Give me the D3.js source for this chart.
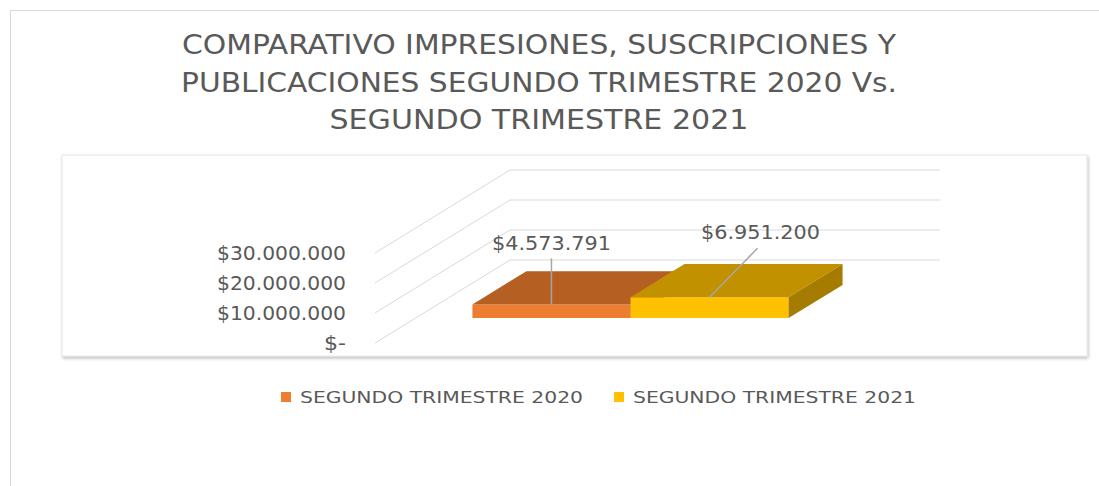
<!DOCTYPE html>
<html>
<head>
<meta charset="utf-8">
<script src="https://cdn.jsdelivr.net/npm/d3@7"></script>
<style>
  body { margin: 0; background: #fff; }
  svg text { fill: #595959; font-family: "Liberation Sans Narrow", "DejaVu Sans Condensed", "Open Sans", sans-serif; }
</style>
</head>
<body>
<div id="chart"></div>
<script>
var titleLines = ["COMPARATIVO IMPRESIONES, SUSCRIPCIONES Y",
                  "PUBLICACIONES SEGUNDO TRIMESTRE 2020 Vs.",
                  "SEGUNDO TRIMESTRE 2021"];
var categories = ["SEGUNDO TRIMESTRE"];
var seriesNames = ["SEGUNDO TRIMESTRE 2020", "SEGUNDO TRIMESTRE 2021"];
var seriesValues = [4573791, 6951200];
var valueLabels = ["$4.573.791", "$6.951.200"];
var tickValues = [0, 10000000, 20000000, 30000000];
var tickLabels = ["$-", "$10.000.000", "$20.000.000", "$30.000.000"];

var width = 1099, height = 486;

var svg = d3.select("#chart").append("svg")
    .attr("width", width)
    .attr("height", height);

var defs = svg.append("defs");
var f = defs.append("filter").attr("id", "shadow")
    .attr("x", "-5%").attr("y", "-5%").attr("width", "110%").attr("height", "120%");
f.append("feDropShadow").attr("dx", 1).attr("dy", 2).attr("stdDeviation", 1.5)
    .attr("flood-color", "#000").attr("flood-opacity", 0.25);

// outer chart frame
svg.append("rect")
    .attr("x", 10.5).attr("y", 10.5)
    .attr("width", 1200).attr("height", 600)
    .attr("fill", "#fff").attr("stroke", "#d9d9d9");

// title
var titleWidths = [714, 716, 419];
svg.selectAll(".title").data(titleLines).enter().append("text")
    .attr("class", "title")
    .attr("x", 539)
    .attr("y", function(d, i) { return 54 + i * 37.5; })
    .attr("text-anchor", "middle")
    .attr("textLength", function(d, i) { return titleWidths[i]; })
    .attr("lengthAdjust", "spacingAndGlyphs")
    .style("font-size", "27px")
    .text(function(d) { return d; });

// plot box
svg.append("rect")
    .attr("x", 62).attr("y", 155)
    .attr("width", 1025).attr("height", 201)
    .attr("fill", "#fff")
    .attr("stroke", "#e6e6e6")
    .attr("filter", "url(#shadow)");

// pseudo 3d: depth 0 = front, 1 = back
var depthX = 135, depthY = -83;
var y = d3.scaleLinear().domain([0, 30000000]).range([343, 253]);
var xCat = d3.scaleBand().domain(categories).range([375, 805]);
var barW = xCat.bandwidth() / (seriesNames.length + 0.72);
var xSer = d3.scaleBand().domain(seriesNames)
    .range([xCat(categories[0]) + barW * 0.36, xCat(categories[0]) + xCat.bandwidth() - barW * 0.36]);

function pt(x, v, d) { return [x + depthX * d, y(v) + depthY * d]; }

var grid = svg.append("g");
tickValues.forEach(function(v) {
  var a = pt(375, v, 0), b = pt(375, v, 1), c = pt(805, v, 1);
  grid.append("path")
    .attr("d", "M" + a + "L" + b + "L" + c)
    .attr("fill", "none").attr("stroke", "#d9d9d9").attr("stroke-width", 1);
});

var tickWidths = [22, 129, 129, 129];
svg.selectAll(".tick").data(tickValues).enter().append("text")
    .attr("class", "tick")
    .attr("x", 346)
    .attr("y", function(d) { return y(d) + 7; })
    .attr("text-anchor", "end")
    .attr("textLength", function(d, i) { return tickWidths[i]; })
    .attr("lengthAdjust", "spacingAndGlyphs")
    .style("font-size", "19px")
    .text(function(d, i) { return tickLabels[i]; });

// bars
var frontColor = ["#ED7D31", "#FFC000"],
    topColor = ["#B65F22", "#C19100"],
    sideColor = ["#9E4F1A", "#A67C00"];
var d0 = 0.3, d1 = 0.7;

function poly(pts) { return "M" + pts.join("L") + "Z"; }

seriesNames.forEach(function(s, i) {
  var x0 = xSer(s), x1 = x0 + xSer.bandwidth(), v = seriesValues[i];
  var g = svg.append("g");
  g.append("path").attr("d", poly([pt(x0, 0, d0), pt(x1, 0, d0), pt(x1, v, d0), pt(x0, v, d0)]))
    .attr("fill", frontColor[i]);
  g.append("path").attr("d", poly([pt(x0, v, d0), pt(x1, v, d0), pt(x1, v, d1), pt(x0, v, d1)]))
    .attr("fill", topColor[i]);
  g.append("path").attr("d", poly([pt(x1, 0, d0), pt(x1, 0, d1), pt(x1, v, d1), pt(x1, v, d0)]))
    .attr("fill", sideColor[i]);
});

// data labels with leader lines
var labelOffset = [[0, -54], [51, -58]];
var lineStart = [[0, -46], [48, -49]];
seriesNames.forEach(function(s, i) {
  var cx = xSer(s) + xSer.bandwidth() / 2, v = seriesValues[i];
  var p = pt(cx, v, d0);
  svg.append("line")
    .attr("x1", p[0] + lineStart[i][0]).attr("y1", p[1] + lineStart[i][1])
    .attr("x2", p[0]).attr("y2", p[1])
    .attr("stroke", "#a6a6a6").attr("stroke-width", 1.5);
  svg.append("text")
    .attr("x", p[0] + labelOffset[i][0])
    .attr("y", p[1] + labelOffset[i][1])
    .attr("text-anchor", "middle")
    .attr("textLength", 119)
    .attr("lengthAdjust", "spacingAndGlyphs")
    .style("font-size", "19px")
    .text(valueLabels[i]);
});

// legend
var legendX = [281, 614];
var legend = svg.selectAll(".legend").data(seriesNames).enter().append("g")
    .attr("class", "legend")
    .attr("transform", function(d, i) { return "translate(" + legendX[i] + ",392)"; });
legend.append("rect")
    .attr("width", 10).attr("height", 10)
    .attr("fill", function(d, i) { return frontColor[i]; });
legend.append("text")
    .attr("x", 19).attr("y", 11)
    .attr("textLength", 283)
    .attr("lengthAdjust", "spacingAndGlyphs")
    .style("font-size", "16px")
    .text(function(d) { return d; });
</script>
</body>
</html>
